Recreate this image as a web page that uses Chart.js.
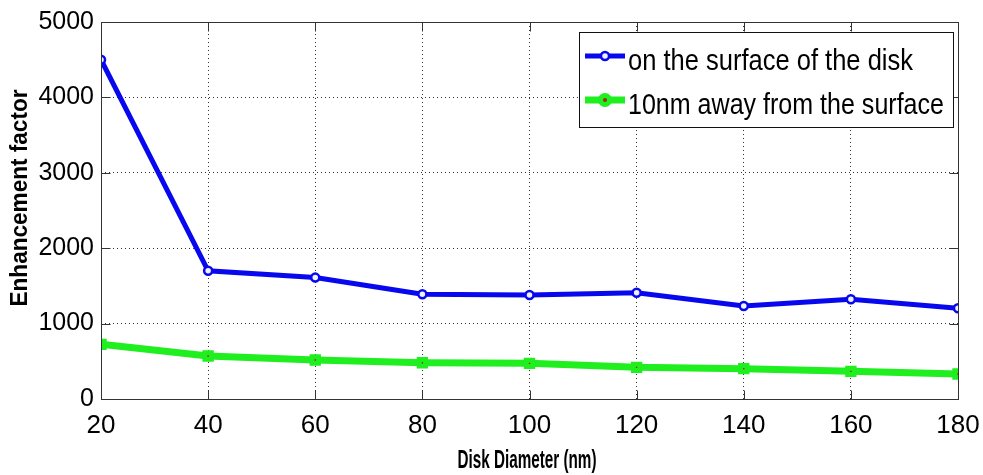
<!DOCTYPE html>
<html>
<head>
<meta charset="utf-8">
<script src="https://cdn.jsdelivr.net/npm/chart.js@4"></script>
<style>
html,body{margin:0;padding:0;background:#fff;}
#wrap{width:983px;height:475px;}
</style>
</head>
<body>
<div id="wrap"><canvas id="c" width="983" height="475"></canvas></div>
<script>
const diameters = [20, 40, 60, 80, 100, 120, 140, 160, 180];
const onSurface = [4500, 1700, 1610, 1390, 1380, 1410, 1233, 1322, 1203];
const away10nm = [725, 570, 517, 481, 473, 420, 402, 367, 331];
const seriesNames = ['on the surface of the disk', '10nm away from the surface'];
const yTicks = [0, 1000, 2000, 3000, 4000, 5000];
const xTicks = [20, 40, 60, 80, 100, 120, 140, 160, 180];
const xTitle = 'Disk Diameter (nm)';
const yTitle = 'Enhancement factor';

function squeezedText(ctx, text, x, y, font, width, align) {
  ctx.save();
  ctx.font = font;
  const w = ctx.measureText(text).width;
  const sx = width / w;
  ctx.translate(x, y);
  ctx.scale(sx, 1);
  ctx.textAlign = 'left';
  ctx.fillText(text, align === 'center' ? -w / 2 : 0, 0);
  ctx.restore();
}

const frame = {
  id: 'frame',
  afterDatasetsDraw(chart) {
    const {ctx, chartArea: a} = chart;
    const L = Math.round(a.left) + 0.5, T = Math.round(a.top) + 0.5;
    const R = Math.round(a.right) + 0.5, B = Math.round(a.bottom) + 0.5;
    ctx.save();
    ctx.strokeStyle = '#333';
    ctx.lineWidth = 1;
    ctx.strokeRect(L, T, R - L, B - T);
    // inward tick marks
    const xs = chart.scales.x, ys = chart.scales.y;
    ctx.beginPath();
    xTicks.forEach(v => {
      const px = Math.round(xs.getPixelForValue(v)) + 0.5;
      ctx.moveTo(px, B); ctx.lineTo(px, B - 9);
      ctx.moveTo(px, T); ctx.lineTo(px, T + 9);
    });
    yTicks.forEach(v => {
      const py = Math.round(ys.getPixelForValue(v)) + 0.5;
      ctx.moveTo(L, py); ctx.lineTo(L + 9, py);
      ctx.moveTo(R, py); ctx.lineTo(R - 9, py);
    });
    ctx.stroke();
    // axis titles
    ctx.fillStyle = '#000';
    ctx.textBaseline = 'middle';
    squeezedText(ctx, xTitle, 527, 461, 'bold 26px "Liberation Sans", Arial, sans-serif', 139, 'center');
    ctx.save();
    ctx.translate(21, 198);
    ctx.rotate(-Math.PI / 2);
    squeezedText(ctx, yTitle, 0, 0, 'bold 23px "Liberation Sans", Arial, sans-serif', 217, 'center');
    ctx.restore();
    // legend box
    const bx = 579, by = 32, bw = 374, bh = 95;
    ctx.fillStyle = '#fff';
    ctx.fillRect(bx, by, bw, bh);
    ctx.strokeStyle = '#111';
    ctx.strokeRect(bx + 0.5, by + 0.5, bw, bh);
    const rows = [56, 100];
    const widths = [285, 316];
    chart.data.datasets.forEach((ds, i) => {
      const y = rows[i];
      ctx.strokeStyle = ds.borderColor;
      ctx.lineWidth = ds.borderWidth;
      ctx.beginPath();
      ctx.moveTo(585, y);
      ctx.lineTo(625, y);
      ctx.stroke();
      ctx.lineWidth = ds.pointBorderWidth;
      ctx.strokeStyle = ds.pointBorderColor;
      ctx.fillStyle = ds.pointBackgroundColor;
      ctx.beginPath();
      ctx.arc(605, y, ds.pointRadius, 0, Math.PI * 2);
      ctx.fill();
      ctx.stroke();
      ctx.fillStyle = '#000';
      ctx.textBaseline = 'alphabetic';
      squeezedText(ctx, ds.label, 628, y + 14, '30px "Liberation Sans", Arial, sans-serif', widths[i], 'left');
    });
    ctx.restore();
  }
};

new Chart(document.getElementById('c'), {
  type: 'line',
  data: {
    datasets: [
      {
        label: seriesNames[0],
        data: diameters.map((d, i) => ({x: d, y: onSurface[i]})),
        borderColor: '#0808ee',
        borderWidth: 5,
        pointRadius: 4,
        pointBorderWidth: 2.5,
        pointBorderColor: '#0808ee',
        pointBackgroundColor: '#eef2ff',
        pointStyle: 'circle',
        tension: 0
      },
      {
        label: seriesNames[1],
        data: diameters.map((d, i) => ({x: d, y: away10nm[i]})),
        borderColor: '#1fee1f',
        borderWidth: 7,
        pointRadius: 4.5,
        pointBorderWidth: 5,
        pointBorderColor: '#1fee1f',
        pointBackgroundColor: '#b0200a',
        pointStyle: 'rect',
        tension: 0
      }
    ]
  },
  options: {
    responsive: false,
    animation: false,
    devicePixelRatio: 1,
    layout: {padding: {top: 22, right: 25, left: 0, bottom: 0}},
    plugins: {legend: {display: false}, tooltip: {enabled: false}},
    scales: {
      x: {
        type: 'linear',
        min: 20, max: 180,
        afterBuildTicks: (s) => { s.ticks = xTicks.map(v => ({value: v})); },
        afterFit: (s) => { s.height = 76; s.paddingRight = 0; s.paddingLeft = 0; },
        grid: {color: '#333', lineWidth: 1, drawTicks: false},
        border: {display: false, dash: [1, 3]},
        ticks: {
          color: '#000', padding: 11, maxRotation: 0,
          callback: (v) => String(v),
          font: {family: '"Liberation Sans", Arial, sans-serif', size: 26}
        },
        title: {display: false, text: xTitle}
      },
      y: {
        min: 0, max: 5000,
        afterBuildTicks: (s) => { s.ticks = yTicks.map(v => ({value: v})); },
        afterFit: (s) => { s.width = 101; s.paddingTop = 0; s.paddingBottom = 0; },
        grid: {color: '#333', lineWidth: 1, drawTicks: false},
        border: {display: false, dash: [1, 3]},
        ticks: {
          color: '#000', padding: 7,
          callback: (v) => String(v),
          font: {family: '"Liberation Sans", Arial, sans-serif', size: 25}
        },
        title: {display: false, text: yTitle}
      }
    }
  },
  plugins: [frame]
});
</script>
</body>
</html>
